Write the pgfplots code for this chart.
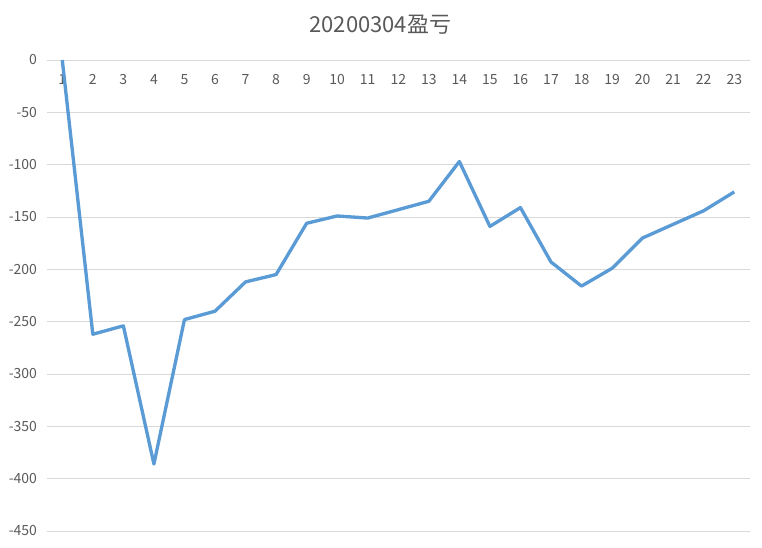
\documentclass[border=0pt]{standalone}
\usepackage{pgfplots}
\pgfplotsset{compat=1.18}
\usepackage{fontspec}
\setmainfont{Noto Sans CJK SC}
\definecolor{seriesblue}{HTML}{5B9BD5}
\definecolor{gridgray}{HTML}{D9D9D9}
\definecolor{txt}{HTML}{595959}
\begin{document}
\begin{tikzpicture}[x=1pt,y=1pt]
\useasboundingbox (-35.25,-12) rectangle (536.25,398.25);
\begin{axis}[
  at={(0,0)}, anchor=south west,
  scale only axis, width=526.9pt, height=353.25pt,
  xmin=0.5, xmax=23.5, ymin=-450, ymax=0,
  xtick={1,...,23}, ytick={-450,-400,...,0},
  xticklabel pos=upper,
  xticklabel style={anchor=north, yshift=-7pt, font=\fontsize{10.5}{12}\selectfont, text=txt},
  yticklabel style={font=\fontsize{10.5}{12}\selectfont, text=txt, xshift=-4pt},
  /pgf/number format/assume math mode=true,
  axis line style={draw=none},
  major tick length=0pt,
  xmajorgrids=false, ymajorgrids=true,
  major grid style={draw=gridgray, line width=0.75pt},
  title={20200304盈亏},
  title style={font=\fontsize{16.5}{18}\selectfont, text=txt, yshift=10pt, xshift=-13.5pt},
  clip=false,
]
\addplot[seriesblue, line width=2.5pt, line join=round] coordinates {
(1,0) (2,-262) (3,-254) (4,-386) (5,-248) (6,-240) (7,-212) (8,-205)
(9,-156) (10,-149) (11,-151) (12,-143) (13,-135) (14,-97) (15,-159)
(16,-141) (17,-193) (18,-216) (19,-199) (20,-170) (21,-157) (22,-144) (23,-126)
};
\end{axis}
\end{tikzpicture}
\end{document}
